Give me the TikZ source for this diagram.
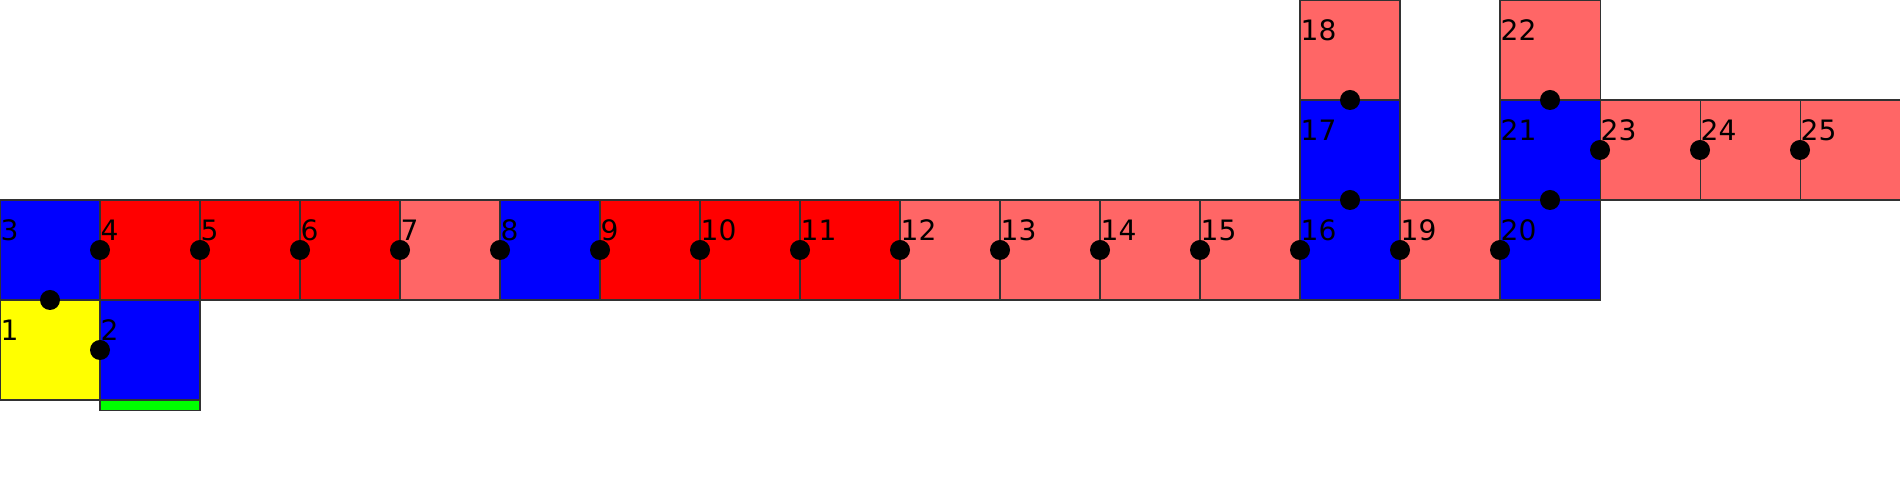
\documentclass[tikz,border=0pt]{standalone}
\usepackage{fontspec}
\setmainfont{DejaVu Sans}
\usepackage{xcolor}
\usepackage{tikz}
\usetikzlibrary{positioning}
\definecolor{cred}{RGB}{255,0,0}
\definecolor{clightred}{RGB}{255,102,102}
\definecolor{cblue}{RGB}{0,0,255}
\definecolor{cyellow}{RGB}{255,255,0}
\definecolor{cgreen}{RGB}{0,255,0}
\definecolor{cline}{RGB}{50,50,50}

\begin{document}
\begin{tikzpicture}[
    cell/.style={draw=cline, line width=0.3pt, minimum size=1cm, inner sep=0pt, outer sep=0pt,
        label={[anchor=north west, inner sep=0pt, xshift=0pt, yshift=-0.19cm, font=\fontsize{8}{9}\selectfont]north west:#1}},
    dot/.style={circle, fill=black, minimum size=0.2cm, inner sep=0pt},
]
    \useasboundingbox (0,0) rectangle (19,5);

    % Bottom left pair
    \node[cell=1, fill=cyellow] (c1) at (0.5, 1.5) {};
    \node[cell=2, fill=cblue] (c2) at (1.5, 1.5) {};
    \node[draw=cline, line width=0.3pt, fill=cgreen, minimum width=1cm, minimum height=0.1cm, inner sep=0pt, below=0pt of c2] (g2) {};

    % Main row
    \node[cell=3, fill=cblue] (c3) at (0.5, 2.5) {};
    \node[cell=4, fill=cred] (c4) at (1.5, 2.5) {};
    \node[cell=5, fill=cred] (c5) at (2.5, 2.5) {};
    \node[cell=6, fill=cred] (c6) at (3.5, 2.5) {};
    \node[cell=7, fill=clightred] (c7) at (4.5, 2.5) {};
    \node[cell=8, fill=cblue] (c8) at (5.5, 2.5) {};
    \node[cell=9, fill=cred] (c9) at (6.5, 2.5) {};
    \node[cell=10, fill=cred] (c10) at (7.5, 2.5) {};
    \node[cell=11, fill=cred] (c11) at (8.5, 2.5) {};
    \node[cell=12, fill=clightred] (c12) at (9.5, 2.5) {};
    \node[cell=13, fill=clightred] (c13) at (10.5, 2.5) {};
    \node[cell=14, fill=clightred] (c14) at (11.5, 2.5) {};
    \node[cell=15, fill=clightred] (c15) at (12.5, 2.5) {};
    \node[cell=16, fill=cblue] (c16) at (13.5, 2.5) {};
    \node[cell=19, fill=clightred] (c19) at (14.5, 2.5) {};
    \node[cell=20, fill=cblue] (c20) at (15.5, 2.5) {};

    % Upper columns
    \node[cell=17, fill=cblue] (c17) at (13.5, 3.5) {};
    \node[cell=18, fill=clightred] (c18) at (13.5, 4.5) {};
    \node[cell=21, fill=cblue] (c21) at (15.5, 3.5) {};
    \node[cell=22, fill=clightred] (c22) at (15.5, 4.5) {};
    \node[cell=23, fill=clightred] (c23) at (16.5, 3.5) {};
    \node[cell=24, fill=clightred] (c24) at (17.5, 3.5) {};
    \node[cell=25, fill=clightred] (c25) at (18.5, 3.5) {};

    % Joints
    \node[dot] (j1) at (c3.south) {};
    \node[dot] (j2) at (c1.east) {};
    \node[dot] (j3) at (c3.east) {};
    \node[dot] (j4) at (c4.east) {};
    \node[dot] (j5) at (c5.east) {};
    \node[dot] (j6) at (c6.east) {};
    \node[dot] (j7) at (c7.east) {};
    \node[dot] (j8) at (c8.east) {};
    \node[dot] (j9) at (c9.east) {};
    \node[dot] (j10) at (c10.east) {};
    \node[dot] (j11) at (c11.east) {};
    \node[dot] (j12) at (c12.east) {};
    \node[dot] (j13) at (c13.east) {};
    \node[dot] (j14) at (c14.east) {};
    \node[dot] (j15) at (c15.east) {};
    \node[dot] (j16) at (c16.east) {};
    \node[dot] (j19) at (c19.east) {};
    \node[dot] (j17) at (c16.north) {};
    \node[dot] (j18) at (c17.north) {};
    \node[dot] (j21) at (c20.north) {};
    \node[dot] (j22) at (c21.north) {};
    \node[dot] (j23) at (c21.east) {};
    \node[dot] (j24) at (c23.east) {};
    \node[dot] (j25) at (c24.east) {};
\end{tikzpicture}
\end{document}
